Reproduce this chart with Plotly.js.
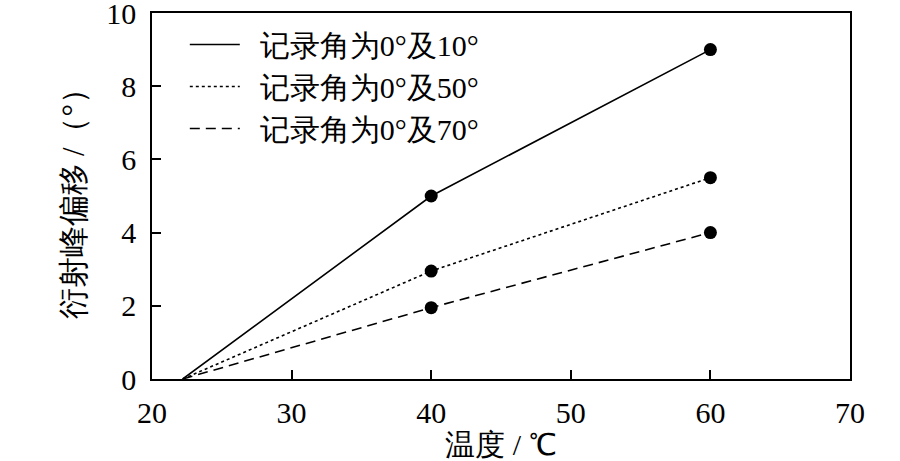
<!DOCTYPE html>
<html>
<head>
<meta charset="utf-8">
<script src="https://cdn.plot.ly/plotly-3.0.1.min.js"></script>
<style>
html,body{margin:0;padding:0;background:#fff;}
#chart{width:900px;height:461px;}
</style>
</head>
<body>
<div id="chart"></div>
<script>
const temperature = [22.2, 40, 60];
const series10 = [0, 5, 9];
const series50 = [0, 2.95, 5.5];
const series70 = [0, 1.95, 4];
const seriesNames = ['记录角为0°及10°', '记录角为0°及50°', '记录角为0°及70°'];
const xTicks = [20, 30, 40, 50, 60, 70];
const yTicks = [0, 2, 4, 6, 8, 10];

const FONT = 'Liberation Serif';
const dashes = ['solid', '3px,3px', '10px,6px'];
const allSeries = [series10, series50, series70];

const traces = [];
allSeries.forEach((ys, i) => {
  traces.push({
    x: temperature, y: ys, mode: 'lines', name: '\u00a0\u00a0' + seriesNames[i],
    line: {color: '#000', width: 1.6, dash: dashes[i]},
    showlegend: true
  });
});
allSeries.forEach((ys, i) => {
  traces.push({
    x: temperature.slice(1), y: ys.slice(1), mode: 'markers',
    marker: {color: '#000', size: 13},
    showlegend: false, hoverinfo: 'skip'
  });
});

const layout = {
  width: 900, height: 461,
  margin: {l: 152, r: 50, t: 13, b: 82},
  paper_bgcolor: '#fff', plot_bgcolor: '#fff',
  showlegend: true,
  legend: {
    x: 0.047, y: 0.985, xanchor: 'left', yanchor: 'top',
    bgcolor: 'rgba(0,0,0,0)', borderwidth: 0,
    font: {family: FONT, size: 30, color: '#000'},
    itemwidth: 50, tracegroupgap: 0
  },
  xaxis: {
    range: [20, 70], tickvals: xTicks, ticktext: xTicks.map(String),
    ticks: 'inside', ticklen: 9, tickwidth: 1.5, tickcolor: '#000',
    showline: true, linecolor: '#000', linewidth: 1.5, mirror: true,
    showgrid: false, zeroline: false,
    tickfont: {family: FONT, size: 30, color: '#000'},
    ticklabelstandoff: 6, ticklabeloverflow: 'allow',
    title: {text: '温度 / ℃', font: {family: FONT, size: 30, color: '#000'}, standoff: 4}
  },
  yaxis: {
    range: [0, 10], tickvals: yTicks, ticktext: yTicks.map(String),
    ticks: 'inside', ticklen: 9, tickwidth: 1.5, tickcolor: '#000',
    showline: true, linecolor: '#000', linewidth: 1.5, mirror: true,
    showgrid: false, zeroline: false,
    tickfont: {family: FONT, size: 30, color: '#000'},
    ticklabelstandoff: 8, ticklabeloverflow: 'allow',
    title: {text: '衍射峰偏移 /（°）', font: {family: FONT, size: 31, color: '#000'}, standoff: 12}
  }
};

Plotly.newPlot('chart', traces, layout, {displayModeBar: false});
</script>
</body>
</html>
